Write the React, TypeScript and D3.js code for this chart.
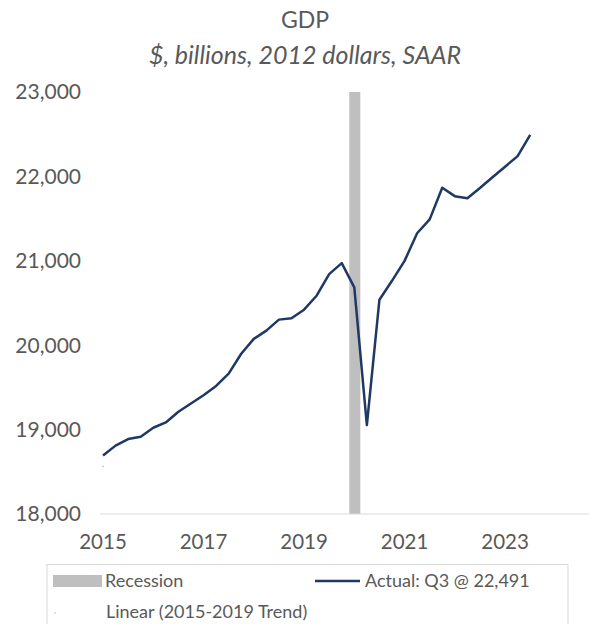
import React from "react";
import * as d3 from "d3";

const quarters: string[] = [
  "2015Q1","2015Q2","2015Q3","2015Q4",
  "2016Q1","2016Q2","2016Q3","2016Q4",
  "2017Q1","2017Q2","2017Q3","2017Q4",
  "2018Q1","2018Q2","2018Q3","2018Q4",
  "2019Q1","2019Q2","2019Q3","2019Q4",
  "2020Q1","2020Q2","2020Q3","2020Q4",
  "2021Q1","2021Q2","2021Q3","2021Q4",
  "2022Q1","2022Q2","2022Q3","2022Q4",
  "2023Q1","2023Q2","2023Q3",
];
const gdpValues: number[] = [
  18692, 18810, 18888, 18916,
  19022, 19085, 19211, 19309,
  19407, 19517, 19663, 19899,
  20075, 20173, 20303, 20320,
  20421, 20586, 20842, 20972,
  20685, 19053, 20539, 20763,
  20999, 21326, 21491, 21866,
  21766, 21742, 21862, 21990,
  22115, 22240, 22491,
];
const trendStart = { year: 2015, value: 18566 };
const recession: [number, number] = [2019.9, 2020.12];
const yTicks: number[] = [18000, 19000, 20000, 21000, 22000, 23000];
const xTicks: number[] = [2015, 2017, 2019, 2021, 2023];
const title = "GDP";
const subtitle = "$, billions, 2012 dollars, SAAR";
const legendRecession = "Recession";
const legendActual = "Actual: Q3 @ 22,491";
const legendTrend = "Linear (2015-2019 Trend)";

const quarterToYear = (q: string) => +q.slice(0, 4) + (+q.slice(5) - 1) * 0.25;

export default function App() {
  const W = 589, H = 624;
  const x = d3.scaleLinear().domain([2014.94, 2024.67]).range([100, 589]);
  const y = d3.scaleLinear().domain([18000, 23000]).range([514, 92]);
  const data = quarters.map((q, i) => ({ t: quarterToYear(q), v: gdpValues[i] }));
  const line = d3.line<{ t: number; v: number }>().x(d => x(d.t)).y(d => y(d.v));
  const fmt = d3.format(",");
  const font = "Lato, 'Open Sans', sans-serif";
  const textColor = "#595959";
  return (
    <svg width={W} height={H} style={{ position: "absolute", left: 0, top: 0, background: "#fff" }}>
      <text x={305} y={28} textAnchor="middle" fontFamily={font} fontSize={23} fill={textColor}>{title}</text>
      <text x={305} y={64} textAnchor="middle" fontFamily={font} fontSize={25} fontStyle="italic" fill={textColor}>{subtitle}</text>
      <rect x={x(recession[0])} y={y(23000)} width={x(recession[1]) - x(recession[0])} height={y(18000) - y(23000)} fill="#bfbfbf" />
      <line x1={100} x2={589} y1={y(18000)} y2={y(18000)} stroke="#d9d9d9" strokeWidth={1.2} />
      {yTicks.map(t => (
        <text key={t} x={81} y={y(t)} dy="0.35em" textAnchor="end" fontFamily={font} fontSize={21} fill={textColor}>{fmt(t)}</text>
      ))}
      {xTicks.map(t => (
        <text key={t} x={x(t)} y={542} dy="0.35em" textAnchor="middle" fontFamily={font} fontSize={20.5} fill={textColor}>{t}</text>
      ))}
      <circle cx={x(trendStart.year)} cy={y(trendStart.value)} r={0.8} fill="#8faadc" />
      <path d={line(data) || ""} fill="none" stroke="#1f3864" strokeWidth={2.5} strokeLinejoin="round" />
      <rect x={47} y={564.5} width={521} height={80} fill="none" stroke="#d9d9d9" strokeWidth={1} />
      <rect x={53} y={575} width={49} height={12} fill="#bfbfbf" />
      <text x={105} y={581} dy="0.35em" fontFamily={font} fontSize={18} fill={textColor}>{legendRecession}</text>
      <line x1={315} x2={360} y1={581} y2={581} stroke="#1f3864" strokeWidth={2.5} />
      <text x={365} y={581} dy="0.35em" fontFamily={font} fontSize={18} fill={textColor}>{legendActual}</text>
      <circle cx={55} cy={613} r={0.7} fill="#8faadc" />
      <text x={106} y={612} dy="0.35em" fontFamily={font} fontSize={18} fill={textColor}>{legendTrend}</text>
    </svg>
  );
}
